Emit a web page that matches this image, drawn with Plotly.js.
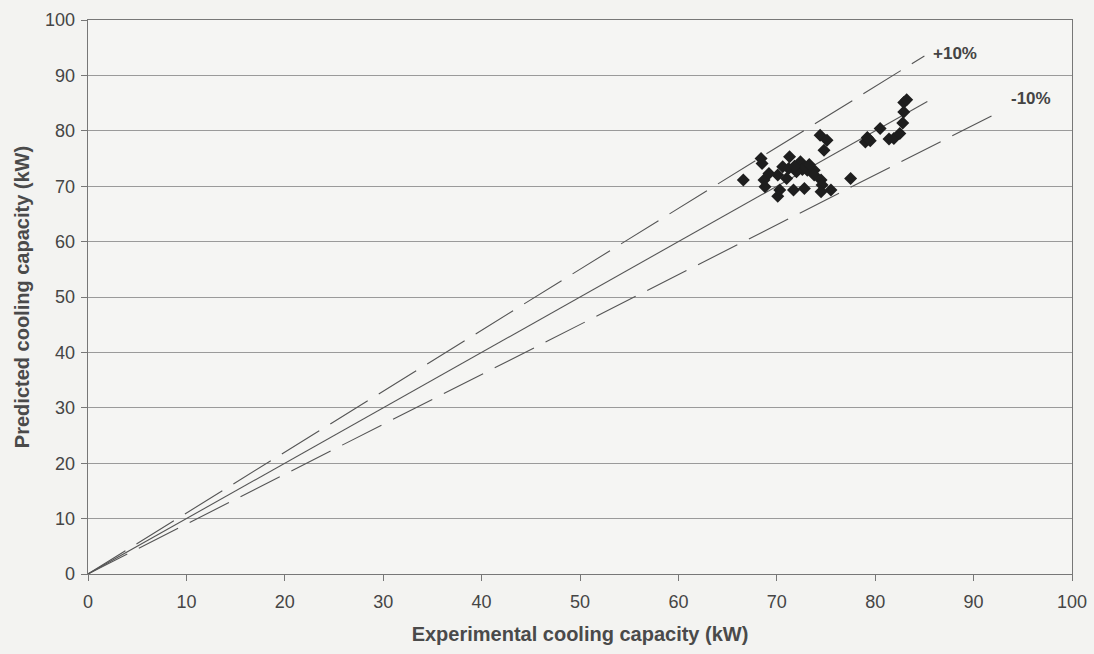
<!DOCTYPE html>
<html><head><meta charset="utf-8">
<script src="https://cdn.plot.ly/plotly-3.0.1.min.js"></script>
<style>html,body{margin:0;padding:0;background:#f3f3f1;}#chart{width:1094px;height:654px;}</style>
</head><body><div id="chart"></div>
<script>
const expCapacity = [66.6,68.4,68.5,68.7,68.8,69.2,70.1,70.3,70.1,71.0,71.3,70.6,71.2,71.7,72.1,72.4,72.8,72.8,73.1,73.8,73.8,72.6,72.0,71.8,73.3,74.4,75.1,74.8,74.5,74.6,75.5,74.5,77.5,79.0,79.3,79.5,79.2,80.5,81.4,81.9,82.5,82.8,82.9,82.9,83.2];
const predCapacity = [71.1,75.0,74.1,71.1,69.9,72.3,72.0,69.3,68.2,71.4,75.3,73.5,73.2,69.3,73.8,74.4,73.5,69.6,72.9,72.9,72.0,73.0,72.6,73.6,73.9,79.2,78.3,76.5,71.1,70.2,69.3,69.0,71.4,78.0,78.5,78.2,78.8,80.4,78.5,78.6,79.5,81.4,83.4,85.1,85.6];
const perfectX = [0,85.3], perfectY = [0,85.3];
const plusX = [0,85], plusY = [0,93.5];
const minusX = [0,92.5], minusY = [0,83.3];
const xTicks = [0,10,20,30,40,50,60,70,80,90,100];
const yTicks = [0,10,20,30,40,50,60,70,80,90,100];
const labels = [{text:'+10%', x:85.7, y:94}, {text:'-10%', x:93.6, y:85.8}];

const lineStyle = {color:'#555', width:1.1};
const traces = [
  {x:perfectX, y:perfectY, mode:'lines', line:lineStyle, hoverinfo:'skip'},
  {x:plusX, y:plusY, mode:'lines', line:Object.assign({dash:'44px,13px'}, lineStyle), hoverinfo:'skip'},
  {x:minusX, y:minusY, mode:'lines', line:Object.assign({dash:'44px,13px'}, lineStyle), hoverinfo:'skip'},
  {x:expCapacity, y:predCapacity, mode:'markers', marker:{symbol:'diamond', size:10, color:'#1e1e1e'}}
];
const axisCommon = {
  range:[0,100], tickvals:xTicks, showline:true, linecolor:'#777', linewidth:1.3, mirror:true,
  ticks:'outside', ticklen:6, tickcolor:'#777', tickfont:{family:'Liberation Sans, Arial', size:18, color:'#454545'},
  zeroline:false, fixedrange:true
};
const layout = {
  width:1094, height:654, showlegend:false,
  paper_bgcolor:'#f3f3f1', plot_bgcolor:'#f5f5f3',
  margin:{l:88, r:22, t:20, b:80},
  xaxis:Object.assign({}, axisCommon, {showgrid:false, ticklabelstandoff:5,
    title:{text:'Experimental cooling capacity (kW)', standoff:16, font:{family:'Liberation Sans, Arial', size:20, color:'#4a4a4a', weight:'bold'}}}),
  yaxis:Object.assign({}, axisCommon, {tickvals:yTicks, showgrid:true, gridcolor:'#9a9a9a', gridwidth:1, ticklabelstandoff:2,
    title:{text:'Predicted cooling capacity (kW)', standoff:10, font:{family:'Liberation Sans, Arial', size:20, color:'#4a4a4a', weight:'bold'}}}),
  annotations: labels.map(l => ({x:l.x, y:l.y, xref:'x', yref:'y', text:'<b>'+l.text+'</b>', showarrow:false, xanchor:'left', yanchor:'middle', font:{family:'Liberation Sans, Arial', size:17, color:'#444'}}))
};
Plotly.newPlot('chart', traces, layout, {staticPlot:true});
</script></body></html>
